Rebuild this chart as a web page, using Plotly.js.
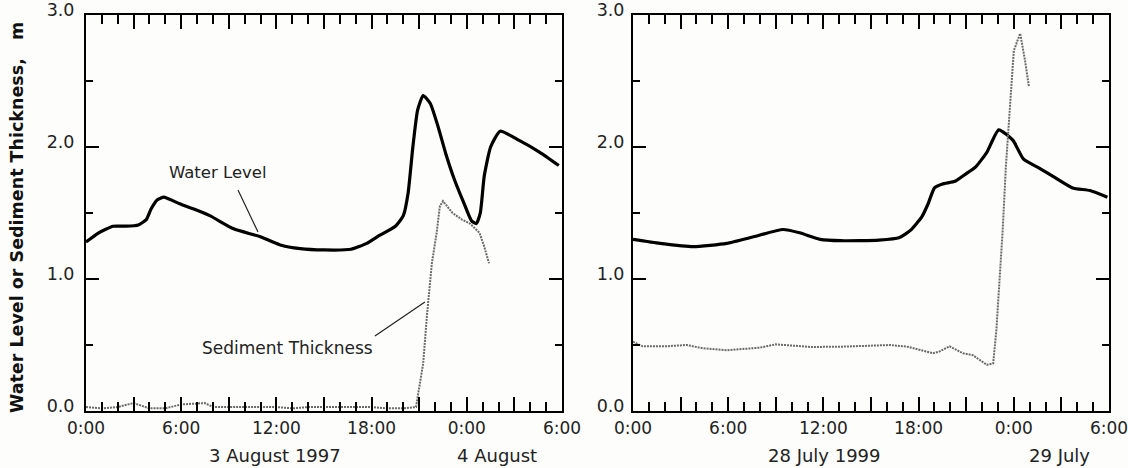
<!DOCTYPE html>
<html>
<head>
<meta charset="utf-8">
<script src="https://cdn.plot.ly/plotly-3.0.1.min.js"></script>
<style>
  html, body { margin: 0; padding: 0; background: #fdfdfb; }
  #chart { width: 1128px; height: 468px; }
</style>
</head>
<body>
<div id="chart"></div>
<script>
// ---- Data (hours since 0:00 of first day; metres) ----
// Panel 1: 3-4 August 1997
const waterTime1997 = [0, 0.8, 1.7, 2.5, 3.3, 3.8, 4.1, 4.5, 4.9, 5.9, 6.8, 7.8, 9.3, 11, 12.2, 13.5, 15, 16.7, 17.7, 18.5, 19.5, 20.0, 20.3, 20.6, 20.9, 21.25, 21.7, 22.2, 22.7, 23.2, 23.8, 24.3, 24.6, 24.85, 25.1, 25.5, 26.1, 27.3, 28.6, 29.8];
const waterLevel1997 = [1.28, 1.35, 1.40, 1.40, 1.41, 1.45, 1.53, 1.60, 1.62, 1.57, 1.53, 1.48, 1.38, 1.32, 1.26, 1.23, 1.22, 1.225, 1.27, 1.33, 1.40, 1.48, 1.65, 2.00, 2.28, 2.39, 2.33, 2.15, 1.94, 1.76, 1.58, 1.44, 1.42, 1.50, 1.78, 2.00, 2.12, 2.05, 1.96, 1.86];
const sedTime1997 = [0, 1, 2, 3, 4, 5, 6, 7, 7.5, 8, 9, 10, 11, 12, 13, 14, 15, 16, 17, 18, 19, 20, 20.8, 21.25, 21.5, 21.8, 22.1, 22.3, 22.5, 23.1, 23.7, 24.2, 24.8, 25.1, 25.4];
const sediment1997 = [0.03, 0.02, 0.03, 0.06, 0.02, 0.02, 0.05, 0.06, 0.06, 0.03, 0.03, 0.03, 0.03, 0.03, 0.02, 0.03, 0.03, 0.03, 0.03, 0.03, 0.02, 0.02, 0.03, 0.36, 0.74, 1.12, 1.35, 1.55, 1.59, 1.50, 1.45, 1.42, 1.35, 1.245, 1.12];

// Panel 2: 28-29 July 1999
const waterTime1999 = [0, 1.7, 3.8, 5.9, 7.6, 9.45, 10.5, 11.8, 13.1, 15.5, 16.8, 17.5, 18.2, 18.6, 19.0, 19.5, 20.3, 20.9, 21.6, 22.3, 23.05, 23.95, 24.6, 25.6, 26.5, 27.7, 28.8, 29.9];
const waterLevel1999 = [1.30, 1.27, 1.245, 1.27, 1.32, 1.375, 1.35, 1.30, 1.29, 1.295, 1.315, 1.37, 1.47, 1.57, 1.69, 1.72, 1.74, 1.79, 1.85, 1.96, 2.13, 2.05, 1.91, 1.84, 1.775, 1.69, 1.67, 1.62];
const sedTime1999 = [0, 0.6, 2, 3.4, 4.4, 5.9, 8.0, 9.0, 11.2, 13.1, 16.2, 17.3, 18.9, 19.3, 19.95, 20.8, 21.4, 22.3, 22.7, 22.9, 23.1, 23.3, 23.5, 23.8, 24.0, 24.4, 24.7, 24.95];
const sediment1999 = [0.525, 0.49, 0.49, 0.50, 0.475, 0.46, 0.48, 0.505, 0.485, 0.487, 0.50, 0.487, 0.437, 0.45, 0.49, 0.437, 0.424, 0.35, 0.36, 0.61, 0.99, 1.37, 1.85, 2.36, 2.73, 2.86, 2.66, 2.46];

// Tick labels
const xTickVals = [0, 3, 6, 9, 12, 15, 18, 21, 24, 27, 30];
const xTickText = ['0:00', '', '6:00', '', '12:00', '', '18:00', '', '0:00', '', '6:00'];
const yTickVals = [0, 1, 2, 3];
const yTickText = ['0.0', '1.0', '2.0', '3.0'];

const dayLabels1997 = [{t: 11.9, text: '3 August 1997'}, {t: 25.9, text: '4 August'}];
const dayLabels1999 = [{t: 12.1, text: '28 July 1999'}, {t: 26.9, text: '29 July'}];

// ---- Styling ----
const FONT = 'DejaVu Sans, Arial, sans-serif';
const waterLine = {color: '#000000', width: 3.2, shape: 'spline', smoothing: 0.5};
const sedLine = {color: '#6a6a6a', width: 2, dash: '2px,1px'};

const traces = [
  {x: waterTime1997, y: waterLevel1997, xaxis: 'x', yaxis: 'y', mode: 'lines', line: waterLine, name: 'Water Level'},
  {x: sedTime1997, y: sediment1997, xaxis: 'x', yaxis: 'y', mode: 'lines', line: sedLine, name: 'Sediment Thickness'},
  {x: waterTime1999, y: waterLevel1999, xaxis: 'x2', yaxis: 'y2', mode: 'lines', line: waterLine, name: 'Water Level'},
  {x: sedTime1999, y: sediment1999, xaxis: 'x2', yaxis: 'y2', mode: 'lines', line: sedLine, name: 'Sediment Thickness'}
];

const W = 1128, H = 468;
const yDom = [(H - 411) / H, (H - 15) / H];
const tickFont = {family: FONT, size: 17, color: '#222'};

function xAxis(domain) {
  return {
    domain: domain, range: [0, 30], showgrid: false, zeroline: false,
    showline: true, linecolor: '#000', linewidth: 2, mirror: 'ticks',
    ticks: 'inside', ticklen: 14, tickwidth: 2, tickcolor: '#000',
    tickvals: xTickVals, ticktext: xTickText, ticklabelstandoff: 1,
    ticklabeloverflow: 'allow',
    tickfont: tickFont,
    minor: {dtick: 1, tick0: 0, ticks: 'inside', ticklen: 9, tickwidth: 2, tickcolor: '#000', showgrid: false},
    fixedrange: true
  };
}
function yAxis(anchor, standoff) {
  return {
    domain: yDom, anchor: anchor, range: [0, 3], showgrid: false, zeroline: false,
    showline: true, linecolor: '#000', linewidth: 2, mirror: 'ticks',
    ticks: 'inside', ticklen: 13, tickwidth: 2, tickcolor: '#000',
    tickvals: yTickVals, ticktext: yTickText, ticklabelstandoff: standoff, ticklabelshift: -5,
    tickfont: {family: FONT, size: 17.5, color: '#222'},
    minor: {dtick: 0.5, tick0: 0, ticks: 'inside', ticklen: 7, tickwidth: 2, tickcolor: '#000', showgrid: false},
    fixedrange: true
  };
}

const annotations = [];
const dayFont = {family: FONT, size: 18, color: '#222'};
dayLabels1997.forEach(d => annotations.push({x: d.t, xref: 'x', y: 13 / H, yref: 'paper', text: d.text, showarrow: false, font: dayFont, xanchor: 'center', yanchor: 'middle'}));
dayLabels1999.forEach(d => annotations.push({x: d.t, xref: 'x2', y: 13 / H, yref: 'paper', text: d.text, showarrow: false, font: dayFont, xanchor: 'center', yanchor: 'middle'}));
annotations.push({x: 8.3, xref: 'x', y: 1.81, yref: 'y', text: 'Water Level', showarrow: false, font: {family: FONT, size: 16.5, color: '#222'}});
annotations.push({x: 12.67, xref: 'x', y: 0.477, yref: 'y', text: 'Sediment Thickness', showarrow: false, font: {family: FONT, size: 17, color: '#222'}});
annotations.push({x: 17 / W, xref: 'paper', y: (H - 218) / H, yref: 'paper', textangle: -90,
  text: '<b>Water Level or Sediment Thickness,\u00a0\u00a0\u00a0m</b>', showarrow: false,
  font: {family: FONT, size: 17.5, color: '#111'}, xanchor: 'center', yanchor: 'middle'});

const shapes = [
  {type: 'line', xref: 'x', yref: 'y', x0: 9.58, y0: 1.674, x1: 10.84, y1: 1.356, line: {color: '#222', width: 1.2}},
  {type: 'line', xref: 'x', yref: 'y', x0: 18.21, y0: 0.568, x1: 21.36, y1: 0.826, line: {color: '#222', width: 1.2}}
];

const layout = {
  width: W, height: H,
  margin: {l: 0, r: 0, t: 0, b: 0},
  paper_bgcolor: '#fdfdfb', plot_bgcolor: '#fdfdfb',
  showlegend: false,
  xaxis: Object.assign(xAxis([86 / W, 562 / W]), {anchor: 'y'}),
  yaxis: yAxis('x', 6),
  xaxis2: Object.assign(xAxis([633 / W, 1109 / W]), {anchor: 'y2'}),
  yaxis2: yAxis('x2', 3),
  annotations: annotations,
  shapes: shapes
};

Plotly.newPlot('chart', traces, layout, {staticPlot: true, displayModeBar: false});
</script>
</body>
</html>
